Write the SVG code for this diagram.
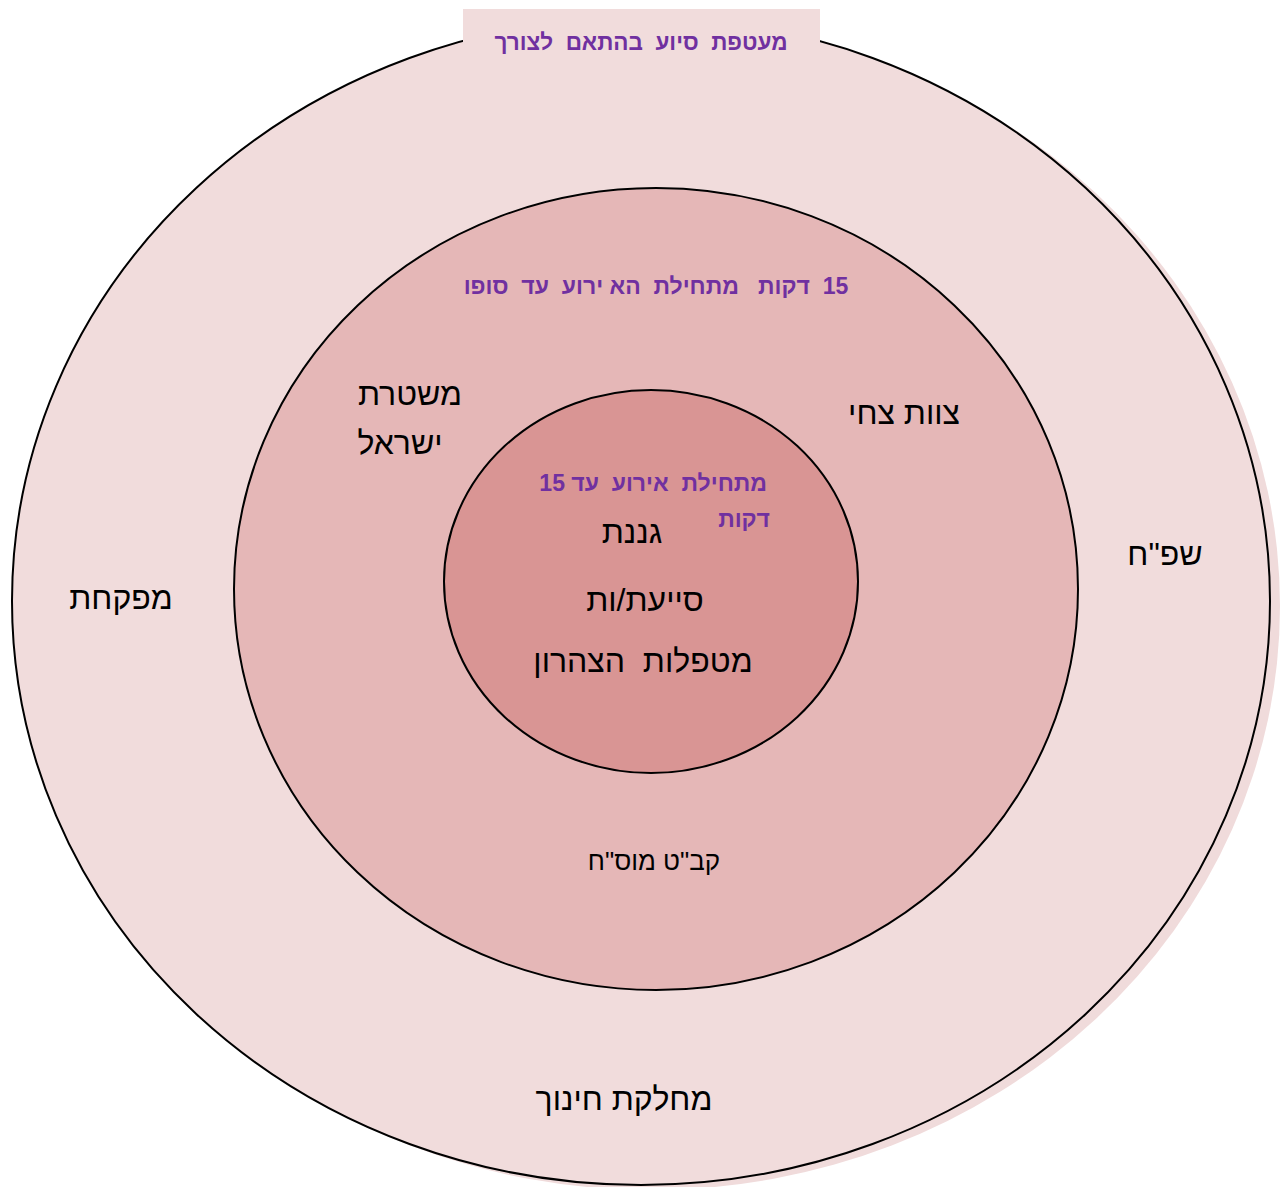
<svg xmlns="http://www.w3.org/2000/svg" width="1283" height="1187" viewBox="0 0 1283 1187">
<style>
text{font-family:"Liberation Sans",Arial,"Noto Sans",sans-serif;direction:rtl;white-space:pre}
.k{fill:#000;font-size:32px}
.p{fill:#7030a0;font-weight:bold;font-size:22.5px}
.ring{stroke:#000;stroke-width:2}
</style>
<rect width="1283" height="1187" fill="#ffffff"/>
<g id="outer">
<ellipse cx="651" cy="606" rx="629" ry="584" fill="#f0dbdb"/>
<ellipse class="ring" cx="641" cy="601" rx="629" ry="584" fill="#f1dcdc"/>
<rect x="463" y="9" width="357" height="50" fill="#f1dcdc"/>
<text class="p" x="641" y="50" text-anchor="middle" style="font-size:22.5px">מעטפת  סיוע  בהתאם  לצורך</text>
<text class="k" x="121" y="609" text-anchor="middle">מפקחת</text>
<text class="k" x="1165" y="565" text-anchor="middle">שפ"ח</text>
<text class="k" x="624" y="1110" text-anchor="middle">מחלקת חינוך</text>
</g>
<g id="middle">
<ellipse class="ring" cx="656" cy="589" rx="422" ry="401" fill="#e5b7b7"/>
<text class="p" x="656" y="294" text-anchor="middle" style="font-size:23px">15  דקות   מתחילת  הא ירוע  עד  סופו</text>
<text class="k" x="410" y="405" text-anchor="middle">משטרת</text>
<text class="k" x="400" y="454" text-anchor="middle">ישראל</text>
<text class="k" x="904" y="424" text-anchor="middle">צוות צחי</text>
<text class="k" x="654" y="870" text-anchor="middle" style="font-size:26px">קב"ט מוס"ח</text>
</g>
<g id="inner">
<ellipse class="ring" cx="651" cy="581.5" rx="207" ry="191.5" fill="#d99594"/>
<text class="p" x="767" y="491" text-anchor="start" style="font-size:23px">מתחילת  אירוע  עד 15</text>
<text class="p" x="770" y="527" text-anchor="start" style="font-size:23px">דקות</text>
<text class="k" x="632" y="543" text-anchor="middle">גננת</text>
<text class="k" x="645" y="611" text-anchor="middle">סייעת/ות</text>
<text class="k" x="643" y="672" text-anchor="middle">מטפלות  הצהרון</text>
</g>
<g id="connectors"/>
</svg>
